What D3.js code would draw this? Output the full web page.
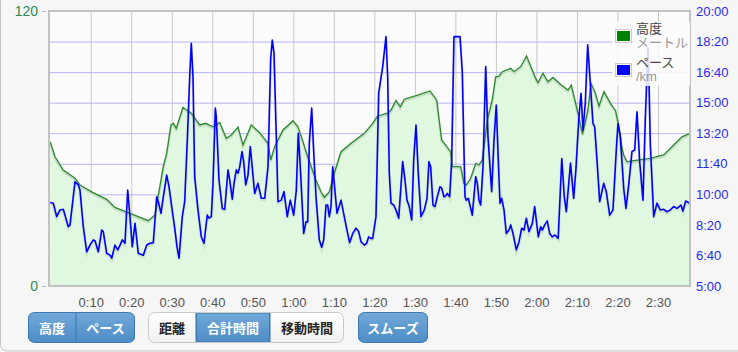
<!DOCTYPE html>
<html>
<head>
<meta charset="utf-8">
<script src="https://cdn.jsdelivr.net/npm/d3@7"></script>
<style>
  body { margin: 0; background: #fff; }
  svg { display: block; font-family: "Liberation Sans", "Noto Sans CJK JP", sans-serif; }
</style>
</head>
<body>
<svg id="chart" width="738" height="352"></svg>
<script>
// elevation (m) against elapsed minutes
var elevTime = [0, 1.18, 3.23, 6.12, 7.35, 10.24, 13.94, 15.99, 19.69, 24.21, 25.86, 27.91, 28.75, 29.81, 30.38,
  31.12, 32.77, 34.82, 36.9, 38.38, 40.18, 41.83, 43.46, 44.69, 46.35, 47.58, 49.63, 51.7, 53.75, 54.42,
  55.4, 57.45, 59.92, 61.15, 62.39, 63.55, 65.6, 66.83, 67.65, 68.88, 70.11, 71.77, 74.24, 77.52, 79.59,
  80.82, 83.29, 84.11, 85.34, 86.4, 87.39, 90.7, 93.73, 95.39, 96.2, 96.62, 98.84, 99.23, 101.31, 102.12,
  102.69, 103.78, 105.01, 105.83, 106.64, 107.87, 109.11, 109.95, 110.76, 111.58, 113.65, 114.47, 116.12, 117.55, 118.29,
  119.82, 120.39, 121.62, 122.85, 124.09, 126.14, 127.79, 128.6, 130.25, 131.37, 132.73, 133.46, 134.45, 135.44,
  136.67, 138.28, 139.51, 140.38, 141.12, 141.54, 142.35, 144.0, 148.1, 151.41, 153.87, 155.92, 157.9];
var elev = [63.0, 56.4, 50.6, 47.0, 44.1, 41.1, 37.8, 34.3, 31.7, 28.5, 31.0, 52.1, 57.9, 70.3, 71.0,
  68.8, 78.0, 75.4, 70.3, 71.0, 69.5, 71.4, 64.5, 65.9, 69.3, 61.5, 70.3, 66.9, 62.3, 55.0,
  60.8, 68.1, 72.1, 69.5, 63.0, 56.4, 46.3, 41.1, 38.7, 41.1, 49.2, 58.6, 62.3, 66.6, 71.0,
  74.2, 75.4, 76.8, 80.9, 78.2, 81.5, 83.3, 85.1, 81.2, 69.5, 63.7, 58.6, 52.1, 52.1, 44.8,
  44.1, 47.0, 53.5, 52.8, 55.0, 72.4, 81.2, 91.3, 91.6, 93.5, 95.0, 93.5, 95.7, 100.4, 97.2,
  90.6, 88.7, 92.8, 89.1, 91.0, 87.7, 85.5, 87.7, 75.4, 66.3, 76.8, 88.4, 84.7, 78.5,
  84.8, 79.7, 76.6, 69.4, 60.2, 57.2, 54.2, 54.7, 55.7, 57.2, 61.5, 65.1, 66.6];

// pace (seconds per km) against elapsed minutes
var paceTime = [0, 0.77, 1.6, 2.42, 3.23, 4.47, 4.89, 6.12, 6.93, 7.35, 8.17, 9.01, 9.82, 10.64, 11.06,
  11.87, 12.71, 13.1, 13.94, 14.76, 15.18, 15.99, 16.66, 17.23, 17.79, 18.46, 19.13, 19.69, 20.26, 20.93,
  21.74, 22.98, 23.82, 24.63, 25.44, 26.28, 26.68, 27.34, 27.91, 28.75, 29.32, 29.99, 30.8, 31.29, 31.79,
  32.6, 33.19, 33.59, 33.84, 34.43, 34.82, 35.24, 35.66, 36.48, 37.29, 37.96, 38.52, 38.77, 39.19, 39.76,
  40.18, 40.75, 40.99, 41.66, 42.47, 43.07, 43.88, 44.3, 44.94, 45.36, 45.93, 46.35, 46.77, 47.34, 47.75,
  48.25, 48.82, 49.38, 50.47, 51.28, 52.1, 52.94, 53.75, 54.42, 54.81, 55.23, 55.8, 56.22, 57.03, 57.7,
  58.51, 59.25, 60.09, 60.74, 61.23, 61.72, 62.56, 63.13, 63.55, 63.94, 64.54, 64.93, 65.6, 66.41, 67.01,
  67.5, 68.07, 68.48, 68.88, 69.3, 69.72, 70.11, 70.78, 71.77, 72.58, 73.25, 73.91, 74.66, 75.47, 76.14,
  76.7, 77.52, 78.11, 78.6, 79.17, 79.59, 80.4, 81.07, 82.06, 82.87, 83.29, 83.69, 84.11, 84.77, 85.34,
  86.01, 86.99, 87.56, 88.06, 88.62, 89.22, 89.71, 90.28, 90.84, 91.51, 92.33, 92.99, 93.48, 93.9, 94.47,
  94.97, 95.53, 96.2, 96.62, 97.19, 97.61, 98.0, 98.59, 99.09, 99.65, 101.14, 101.7, 102.37, 102.69, 103.18,
  103.78, 104.17, 105.01, 105.41, 105.83, 106.24, 106.81, 107.48, 108.04, 108.96, 109.53, 110.09, 110.59, 111.01, 111.43,
  112.0, 112.56, 113.23, 113.65, 114.22, 115.03, 115.7, 116.36, 116.93, 117.5, 118.16, 118.98, 119.57, 120.46, 121.05,
  121.45, 122.04, 122.68, 123.27, 123.92, 124.58, 125.37, 126.26, 126.88, 127.37, 128.41, 129.2, 129.76, 130.43, 131.0,
  131.49, 132.06, 132.65, 133.05, 133.96, 134.38, 134.95, 135.61, 136.6, 137.24, 138.08, 138.89, 139.71, 140.13, 140.7,
  141.54, 142.1, 142.77, 143.58, 144.25, 144.82, 145.48, 146.3, 146.86, 147.53, 147.77, 148.1, 148.94, 149.75, 150.57,
  151.41, 152.22, 153.04, 153.87, 154.68, 155.67, 156.16, 156.83, 157.82];
var pace = [573, 571, 527, 549, 551, 494, 500, 641, 631, 614, 494, 412, 434, 451, 448,
  412, 483, 478, 407, 401, 391, 434, 418, 434, 451, 440, 614, 527, 429, 505,
  407, 401, 434, 440, 442, 592, 576, 538, 592, 663, 625, 560, 483, 429, 391,
  527, 576, 702, 778, 985, 1094, 985, 658, 549, 461, 440, 505, 532, 522, 527,
  636, 882, 854, 647, 554, 551, 680, 647, 584, 636, 680, 669, 690, 740, 707,
  631, 663, 756, 603, 636, 587, 587, 690, 1045, 1105, 1062, 789, 576, 581, 609,
  527, 581, 532, 614, 800, 690, 472, 510, 510, 767, 882, 767, 592, 451, 427,
  451, 565, 565, 527, 560, 690, 636, 538, 581, 527, 483, 442, 472, 489, 478,
  445, 434, 440, 461, 456, 456, 527, 931, 1018, 1116, 985, 669, 571, 565, 549,
  522, 707, 647, 581, 560, 516, 712, 827, 669, 527, 549, 587, 707, 690, 565,
  560, 592, 625, 620, 592, 595, 603, 592, 712, 1116, 1116, 1001, 592, 581, 587,
  554, 532, 658, 636, 581, 565, 690, 1018, 789, 609, 778, 892, 712, 571, 587,
  549, 472, 483, 500, 472, 418, 445, 489, 483, 522, 478, 505, 560, 461, 494,
  483, 500, 513, 472, 461, 467, 456, 717, 592, 543, 702, 587, 685, 843, 931,
  811, 898, 1089, 1012, 832, 821, 712, 576, 636, 609, 532, 549, 745, 832, 789,
  620, 554, 631, 740, 745, 870, 707, 581, 843, 1079, 974, 767, 527, 571, 549,
  551, 543, 549, 560, 554, 565, 545, 578, 571];

var timeTicks = [10, 20, 30, 40, 50, 60, 70, 80, 90, 100, 110, 120, 130, 140, 150];
var paceTicks = [300, 400, 500, 600, 700, 800, 900, 1000, 1100, 1200];
var elevTicks = [0, 120];
var legendItems = [{name: "高度", unit: "メートル", color: "green"}, {name: "ペース", unit: "/km", color: "blue"}];
var buttonGroups = [
  [{label: "高度", w: 48, on: true}, {label: "ペース", w: 59, on: true}],
  [{label: "距離", w: 48, on: false}, {label: "合計時間", w: 74, on: true}, {label: "移動時間", w: 74, on: false}],
  [{label: "スムーズ", w: 70, on: true}]
];
var groupX = [28, 148, 358];

var L = 50.2, R = 690, T = 11, B = 286;
var svg = d3.select("#chart");

var x = d3.scaleLinear().domain([0, 157.9]).range([L, R]);
var yElev = d3.scaleLinear().domain([0, 120]).range([B, T]);
var yPace = d3.scaleLinear().domain([300, 1200]).range([B, T]);

function hm(m) { return Math.floor(m / 60) + ":" + d3.format("02")(m % 60); }
function ms(s) { return Math.floor(s / 60) + ":" + d3.format("02")(s % 60); }

// panel background
svg.append("rect").attr("x", 0.5).attr("y", -20).attr("width", 760).attr("height", 371)
  .attr("rx", 6).attr("fill", "#f6f6f6").attr("stroke", "#c4c4c4");

svg.append("rect").attr("x", 49).attr("y", T).attr("width", R - 49).attr("height", B - T)
  .attr("fill", "#fcfcfc");

// grid
svg.append("g").attr("transform", "translate(0," + B + ")")
  .call(d3.axisBottom(x).tickValues(timeTicks).tickSize(-(B - T)).tickFormat(""))
  .call(g => g.select(".domain").remove())
  .call(g => g.selectAll("line").attr("stroke", "#c9c9c9"));

svg.append("g").attr("transform", "translate(" + R + ",0)")
  .call(d3.axisLeft(yPace).tickValues(paceTicks.slice(1, -1)).tickSize(R - 49).tickFormat(""))
  .call(g => g.select(".domain").remove())
  .call(g => g.selectAll("line").attr("stroke", "#b4b4f4"));

// elevation area
var area = d3.area().x((d, i) => x(elevTime[i])).y0(B).y1(d => yElev(d));
var eLine = d3.line().x((d, i) => x(elevTime[i])).y(d => yElev(d));
svg.append("path").datum(elev).attr("d", area).attr("fill", "#e0f7e0");
svg.append("path").datum(elev).attr("d", eLine).attr("fill", "none")
  .attr("stroke", "rgba(0,0,0,0.1)").attr("stroke-width", 2.5).attr("transform", "translate(0,1.5)");
svg.append("path").datum(elev).attr("d", eLine).attr("fill", "none")
  .attr("stroke", "#2b8a2b").attr("stroke-width", 1.3);

// pace line
var pLine = d3.line().x((d, i) => x(paceTime[i])).y(d => yPace(d));
svg.append("path").datum(pace).attr("d", pLine).attr("fill", "none")
  .attr("stroke", "rgba(0,0,0,0.08)").attr("stroke-width", 3).attr("transform", "translate(0,1.5)");
svg.append("path").datum(pace).attr("d", pLine).attr("fill", "none")
  .attr("stroke", "#0000ff").attr("stroke-width", 1.6).attr("stroke-linejoin", "round");

// plot border
svg.append("rect").attr("x", 49).attr("y", T).attr("width", R - 49).attr("height", B - T)
  .attr("fill", "none").attr("stroke", "#c2c2c2").attr("stroke-width", 2);

// axes labels
svg.append("g").attr("transform", "translate(0," + B + ")")
  .call(d3.axisBottom(x).tickValues(timeTicks).tickSize(0).tickPadding(12).tickFormat(hm))
  .call(g => g.select(".domain").remove())
  .call(g => g.selectAll("text").attr("fill", "#555").attr("font-size", 13).attr("font-family", null));

svg.append("g").attr("transform", "translate(" + R + ",0)")
  .call(d3.axisRight(yPace).tickValues(paceTicks).tickSize(0).tickPadding(6).tickFormat(ms))
  .call(g => g.select(".domain").remove())
  .call(g => g.selectAll("text").attr("fill", "#2a2aee").attr("font-size", 13).attr("font-family", null));

svg.append("g").attr("transform", "translate(46,0)")
  .call(d3.axisLeft(yElev).tickValues(elevTicks).tickSize(4).tickPadding(4))
  .call(g => g.select(".domain").remove())
  .call(g => g.selectAll("line").attr("stroke", "#bbb"))
  .call(g => g.selectAll("text").attr("fill", "#2e8b57").attr("font-size", 14).attr("font-family", null));

// legend
var lg = svg.append("g").attr("transform", "translate(612,22)");
lg.append("rect").attr("width", 78).attr("height", 64).attr("fill", "#fcfcfc").attr("opacity", 0.85);
legendItems.forEach(function(d, i) {
  var gy = i * 34;
  lg.append("rect").attr("x", 3.5).attr("y", gy + 7.5).attr("width", 16).attr("height", 13)
    .attr("fill", "none").attr("stroke", "#ccc");
  lg.append("rect").attr("x", 5).attr("y", gy + 9).attr("width", 13).attr("height", 10).attr("fill", d.color);
  lg.append("text").attr("x", 24).attr("y", gy + 11).attr("font-size", 13).attr("fill", "#444").text(d.name);
  lg.append("text").attr("x", 24).attr("y", gy + 25).attr("font-size", 13).attr("fill", "#999").text(d.unit);
});

// buttons
var defs = svg.append("defs");
var gOn = defs.append("linearGradient").attr("id", "gOn").attr("x2", 0).attr("y2", 1);
gOn.append("stop").attr("offset", 0).attr("stop-color", "#72a9d9");
gOn.append("stop").attr("offset", 1).attr("stop-color", "#4d8cc6");
var gOff = defs.append("linearGradient").attr("id", "gOff").attr("x2", 0).attr("y2", 1);
gOff.append("stop").attr("offset", 0).attr("stop-color", "#ffffff");
gOff.append("stop").attr("offset", 1).attr("stop-color", "#f0f0f0");

buttonGroups.forEach(function(grp, gi) {
  var bx = groupX[gi], by = 312.5, bh = 30;
  var tw = d3.sum(grp, d => d.w);
  defs.append("clipPath").attr("id", "clip" + gi)
    .append("rect").attr("x", bx).attr("y", by).attr("width", tw).attr("height", bh).attr("rx", 6);
  var g = svg.append("g");
  var inner = g.append("g").attr("clip-path", "url(#clip" + gi + ")");
  var cx = bx;
  grp.forEach(function(b, bi) {
    inner.append("rect").attr("x", cx).attr("y", by).attr("width", b.w).attr("height", bh)
      .attr("fill", b.on ? "url(#gOn)" : "url(#gOff)");
    if (b.on && grp.length > 1 && gi === 1) {
      inner.append("rect").attr("x", cx + 0.5).attr("y", by + 0.5).attr("width", b.w - 1).attr("height", bh - 1)
        .attr("fill", "none").attr("stroke", "#3a78b2");
    }
    if (bi > 0) {
      inner.append("line").attr("x1", cx).attr("x2", cx).attr("y1", by).attr("y2", by + bh)
        .attr("stroke", b.on || grp[bi - 1].on ? "#3a78b2" : "#ccc");
    }
    g.append("text").attr("x", cx + b.w / 2).attr("y", by + bh / 2 + 5).attr("text-anchor", "middle")
      .attr("font-size", 13).attr("font-weight", "bold").attr("font-family", "'Noto Sans CJK JP', sans-serif")
      .attr("fill", b.on ? "#fff" : "#222").text(b.label);
    cx += b.w;
  });
  var allOn = grp.every(d => d.on);
  g.append("rect").attr("x", bx + 0.5).attr("y", by).attr("width", tw - 1).attr("height", bh).attr("rx", 6)
    .attr("fill", "none").attr("stroke", allOn ? "#3a78b2" : "#c8c8c8");
});
</script>
</body>
</html>
